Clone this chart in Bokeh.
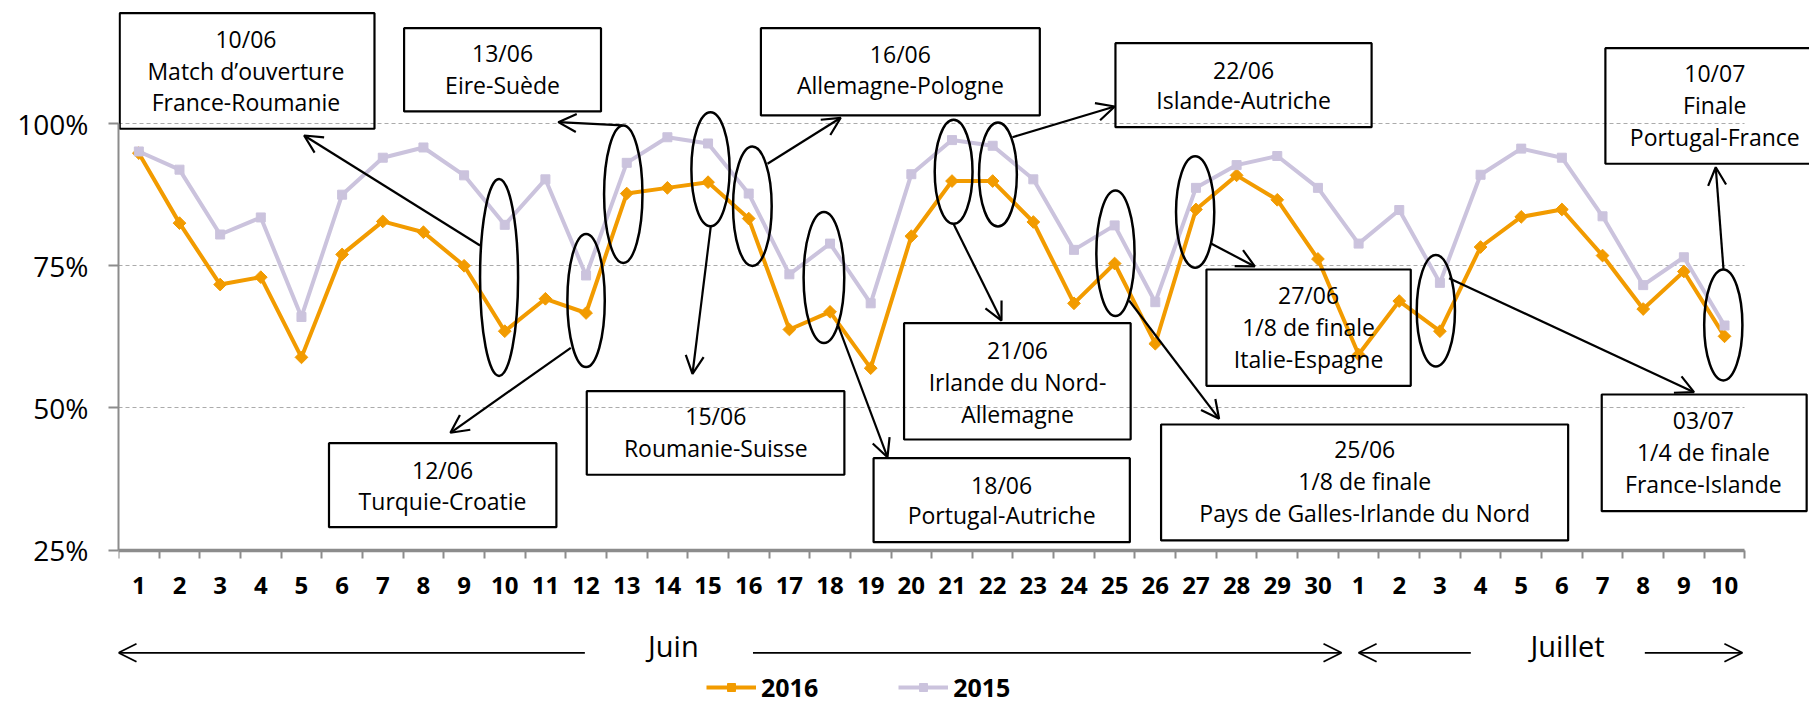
import numpy as np
from bokeh.plotting import figure
from bokeh.models import (ColumnDataSource, Range1d, FixedTicker, Arrow, OpenHead,
                          Legend, LegendItem)
from bokeh.core.properties import value
from bokeh.embed import file_html
from bokeh.resources import INLINE

# ---------------- data ----------------
DAY_LABELS = ["1", "2", "3", "4", "5", "6", "7", "8", "9", "10",
              "11", "12", "13", "14", "15", "16", "17", "18", "19", "20",
              "21", "22", "23", "24", "25", "26", "27", "28", "29", "30",
              "1", "2", "3", "4", "5", "6", "7", "8", "9", "10"]
MONTHS = ["Juin", "Juillet"]
SERIES = ["2016", "2015"]
SHARE_2016 = [94.8, 82.5, 71.7, 73.0, 58.9, 77.0, 82.8, 80.9, 75.0, 63.5,
              69.2, 66.7, 87.7, 88.7, 89.7, 83.3, 63.8, 66.9, 57.0, 80.2,
              89.9, 89.9, 82.7, 68.4, 75.4, 61.3, 84.9, 90.9, 86.6, 76.2,
              59.4, 68.8, 63.5, 78.3, 83.6, 84.9, 76.8, 67.4, 74.0, 62.6]
SHARE_2015 = [95.1, 91.9, 80.5, 83.5, 66.0, 87.5, 94.0, 95.8, 90.9, 82.2,
              90.2, 73.3, 93.1, 97.6, 96.5, 87.7, 73.5, 78.9, 68.4, 91.1,
              97.1, 96.1, 90.2, 77.8, 82.1, 68.6, 88.7, 92.7, 94.3, 88.7,
              78.9, 84.8, 72.0, 91.0, 95.6, 94.0, 83.7, 71.6, 76.5, 64.5]
Y_TICKS = [25, 50, 75, 100]
Y_TICK_LABELS = ["25%", "50%", "75%", "100%"]

# ---------------- annotation layout (data units: day index, percent) ----------------
ANNOTATIONS = [
    dict(lines=["10/06", "Match d\u2019ouverture", "France-Roumanie"], box=(0.03, 6.296, 119.41, 99.09),
         tx=3.135, ty=[114.91, 109.33, 103.76], ell=(9.36, 72.94, 0.935, 34.6), arrow=(8.893, 78.57, 4.565, 97.91)),
    dict(lines=["12/06", "Turquie-Croatie"], box=(5.177, 10.77, 43.81, 29.04),
         tx=7.97, ty=[39.13, 33.56], ell=(11.50, 68.9, 0.92, 23.4), arrow=(11.124, 60.58, 8.163, 45.64)),
    dict(lines=["13/06", "Eire-Su\u00e8de"], box=(7.024, 11.867, 116.77, 102.13),
         tx=9.446, ty=[112.38, 106.82], ell=(12.415, 87.57, 0.944, 24.2), arrow=(12.395, 99.67, 10.817, 100.25)),
    dict(lines=["15/06", "Roumanie-Suisse"], box=(11.517, 17.853, 52.95, 38.26),
         tx=14.69, ty=[48.51, 43.0], ell=(14.56, 91.97, 0.94, 20.1), arrow=(14.567, 81.91, 14.117, 56.01)),
    dict(lines=["16/06", "Allemagne-Pologne"], box=(15.80, 22.66, 116.77, 101.43),
         tx=19.23, ty=[112.28, 106.7], ell=(15.59, 85.46, 0.95, 21.0), arrow=(15.962, 92.93, 17.764, 101.02)),
    dict(lines=["18/06", "Portugal-Autriche"], box=(18.571, 24.874, 41.17, 26.41),
         tx=21.72, ty=[36.54, 31.1], ell=(17.35, 72.94, 1.0, 23.0), arrow=(17.683, 64.8, 18.913, 41.35)),
    dict(lines=["21/06", "Irlande du Nord-", "Allemagne"], box=(19.321, 24.894, 64.91, 44.46),
         tx=22.11, ty=[60.11, 54.54, 48.98], ell=(20.54, 91.53, 0.93, 18.3), arrow=(20.536, 82.39, 21.717, 65.38)),
    dict(lines=["22/06", "Islande-Autriche"], box=(24.52, 30.82, 114.14, 99.37),
         tx=27.67, ty=[109.46, 104.06], ell=(21.63, 91.05, 0.93, 18.3), arrow=(21.987, 97.61, 24.503, 103.0)),
    dict(lines=["25/06", "1/8 de finale", "Pays de Galles-Irlande du Nord"], box=(25.642, 35.654, 47.1, 26.71),
         tx=30.65, ty=[42.83, 37.25, 31.58], ell=(24.52, 77.2, 0.94, 22.1), arrow=(24.855, 68.9, 27.069, 48.1)),
    dict(lines=["27/06", "1/8 de finale", "Italie-Espagne"], box=(26.758, 31.783, 74.35, 53.9),
         tx=29.27, ty=[69.9, 64.2, 58.65], ell=(26.48, 84.46, 0.94, 19.6), arrow=(26.882, 78.87, 27.947, 74.88)),
    dict(lines=["03/07", "1/4 de finale", "France-Islande"], box=(36.48, 41.52, 52.37, 31.86),
         tx=38.98, ty=[47.93, 42.23, 36.67], ell=(32.40, 67.1, 0.94, 19.6), arrow=(32.725, 72.82, 38.75, 52.78)),
    dict(lines=["10/07", "Finale", "Portugal-France"], box=(36.57, 41.94, 113.26, 92.94),
         tx=39.26, ty=[108.86, 103.3, 97.61], ell=(39.47, 64.6, 0.94, 19.5), arrow=(39.474, 74.47, 39.284, 92.33)),
]
MONTH_LABEL_POS = [(13.647, 8.3), (35.64, 8.3)]
MONTH_ARROWS = [(11.47, 0.0), (15.605, 30.08), (33.26, 30.5), (37.54, 39.94)]
MONTH_ARROW_Y = 6.96

# ---------------- styles ----------------
COLOR_2016 = "#F29B00"
COLOR_2015 = "#CBC3DD"
AXIS_GRAY = "#8C8C8C"
GRID_GRAY = "#ABABAB"
FONT = "Open Sans"

n = len(DAY_LABELS)
xc = np.arange(n) + 0.5

p = figure(width=1809, height=704,
           x_range=Range1d(0, 41.59), y_range=Range1d(-2.13, 121.64),
           output_backend="svg", toolbar_location=None,
           min_border_left=118, min_border_right=0, min_border_top=0, min_border_bottom=0)
p.outline_line_color = None
p.background_fill_color = "white"
p.border_fill_color = "white"

# x axis (categories, ticks between days)
xa = p.xaxis[0]
xa.fixed_location = 25
xa.ticker = FixedTicker(ticks=[float(v) for v in xc], minor_ticks=list(range(n + 1)))
xa.major_label_overrides = {float(v): lab for v, lab in zip(xc, DAY_LABELS)}
xa.major_tick_line_color = None
xa.major_tick_out = 0
xa.major_tick_in = 0
xa.minor_tick_out = 8
xa.minor_tick_in = 0
xa.minor_tick_line_color = AXIS_GRAY
xa.minor_tick_line_width = 2
xa.axis_line_color = AXIS_GRAY
xa.axis_line_width = 3.5
xa.bounds = (0, n)
xa.major_label_standoff = 19
xa.major_label_text_font = FONT
xa.major_label_text_font_size = "24px"
xa.major_label_text_font_style = "bold"
xa.major_label_text_color = "black"

# y axis
ya = p.yaxis[0]
ya.ticker = FixedTicker(ticks=Y_TICKS)
ya.major_label_overrides = dict(zip(Y_TICKS, Y_TICK_LABELS))
ya.minor_tick_line_color = None
ya.major_tick_out = 10
ya.major_tick_in = 0
ya.major_tick_line_color = AXIS_GRAY
ya.major_tick_line_width = 2
ya.axis_line_color = AXIS_GRAY
ya.axis_line_width = 2
ya.bounds = (25, 100)
ya.major_label_standoff = 20
ya.major_label_text_font = FONT
ya.major_label_text_font_size = "28px"
ya.major_label_text_color = "black"

# horizontal gridlines limited to the category span
p.xgrid.visible = False
grid = p.ygrid[0]
if "cross_bounds" in grid.properties():
    grid.ticker = FixedTicker(ticks=Y_TICKS)
    grid.grid_line_color = GRID_GRAY
    grid.grid_line_dash = "4 3"
    grid.grid_line_width = 1
    grid.cross_bounds = (0, n)
else:
    grid.visible = False
    p.segment(x0=[0] * len(Y_TICKS), x1=[n] * len(Y_TICKS), y0=Y_TICKS, y1=Y_TICKS,
              line_color=GRID_GRAY, line_dash="4 3", line_width=1, level="underlay")

# series
r16l = p.line(xc, SHARE_2016, line_color=COLOR_2016, line_width=4)
r16m = p.scatter(xc, SHARE_2016, marker="square", angle=45, angle_units="deg", size=9,
                 fill_color=COLOR_2016, line_color=COLOR_2016)
r15l = p.line(xc, SHARE_2015, line_color=COLOR_2015, line_width=4)
r15m = p.scatter(xc, SHARE_2015, marker="square", size=9,
                 fill_color=COLOR_2015, line_color=COLOR_2015)

# annotation boxes, texts, ellipses, arrows
box_src = ColumnDataSource(dict(
    left=[a["box"][0] for a in ANNOTATIONS], right=[a["box"][1] for a in ANNOTATIONS],
    top=[a["box"][2] for a in ANNOTATIONS], bottom=[a["box"][3] for a in ANNOTATIONS]))
p.quad(left="left", right="right", top="top", bottom="bottom", source=box_src,
       fill_color=None, line_color="black", line_width=2.2)

tx, ty, tt = [], [], []
for a in ANNOTATIONS:
    for line, y in zip(a["lines"], a["ty"]):
        tx.append(a["tx"]); ty.append(y); tt.append(line)
p.text(x=tx, y=ty, text=tt, text_font=value(FONT), text_font_size="23px",
       text_align="center", text_baseline="middle", text_color="black")

ell_src = ColumnDataSource(dict(
    x=[a["ell"][0] for a in ANNOTATIONS], y=[a["ell"][1] for a in ANNOTATIONS],
    w=[a["ell"][2] for a in ANNOTATIONS], h=[a["ell"][3] for a in ANNOTATIONS]))
p.ellipse(x="x", y="y", width="w", height="h", source=ell_src,
          fill_color=None, line_color="black", line_width=2.5)

arr_src = ColumnDataSource(dict(
    x0=[a["arrow"][0] for a in ANNOTATIONS], y0=[a["arrow"][1] for a in ANNOTATIONS],
    x1=[a["arrow"][2] for a in ANNOTATIONS], y1=[a["arrow"][3] for a in ANNOTATIONS]))
p.add_layout(Arrow(source=arr_src, x_start="x0", y_start="y0", x_end="x1", y_end="y1",
                   line_color="black", line_width=2.2,
                   end=OpenHead(size=18, line_color="black", line_width=2.2)))

# month arrows and labels
m_src = ColumnDataSource(dict(
    x0=[m[0] for m in MONTH_ARROWS], x1=[m[1] for m in MONTH_ARROWS],
    y=[MONTH_ARROW_Y] * len(MONTH_ARROWS)))
p.add_layout(Arrow(source=m_src, x_start="x0", y_start="y", x_end="x1", y_end="y",
                   line_color="black", line_width=1.8,
                   end=OpenHead(size=18, line_color="black", line_width=1.8)))
p.text(x=[m[0] for m in MONTH_LABEL_POS], y=[m[1] for m in MONTH_LABEL_POS], text=MONTHS,
       text_font=value(FONT), text_font_size="29px", text_align="center",
       text_baseline="middle", text_color="black")

# legend
legend = Legend(items=[LegendItem(label=SERIES[0], renderers=[r16l, r16m]),
                       LegendItem(label=SERIES[1], renderers=[r15l, r15m])],
                orientation="horizontal", location=(588, 0),
                glyph_width=50, glyph_height=20, label_standoff=5, spacing=80,
                padding=0, margin=0, border_line_color=None, background_fill_alpha=0,
                label_text_font=FONT, label_text_font_size="25px",
                label_text_font_style="bold", label_text_color="black")
p.add_layout(legend)

open("out.html", "w").write(file_html(p, INLINE, title="Audience Euro 2016"))
